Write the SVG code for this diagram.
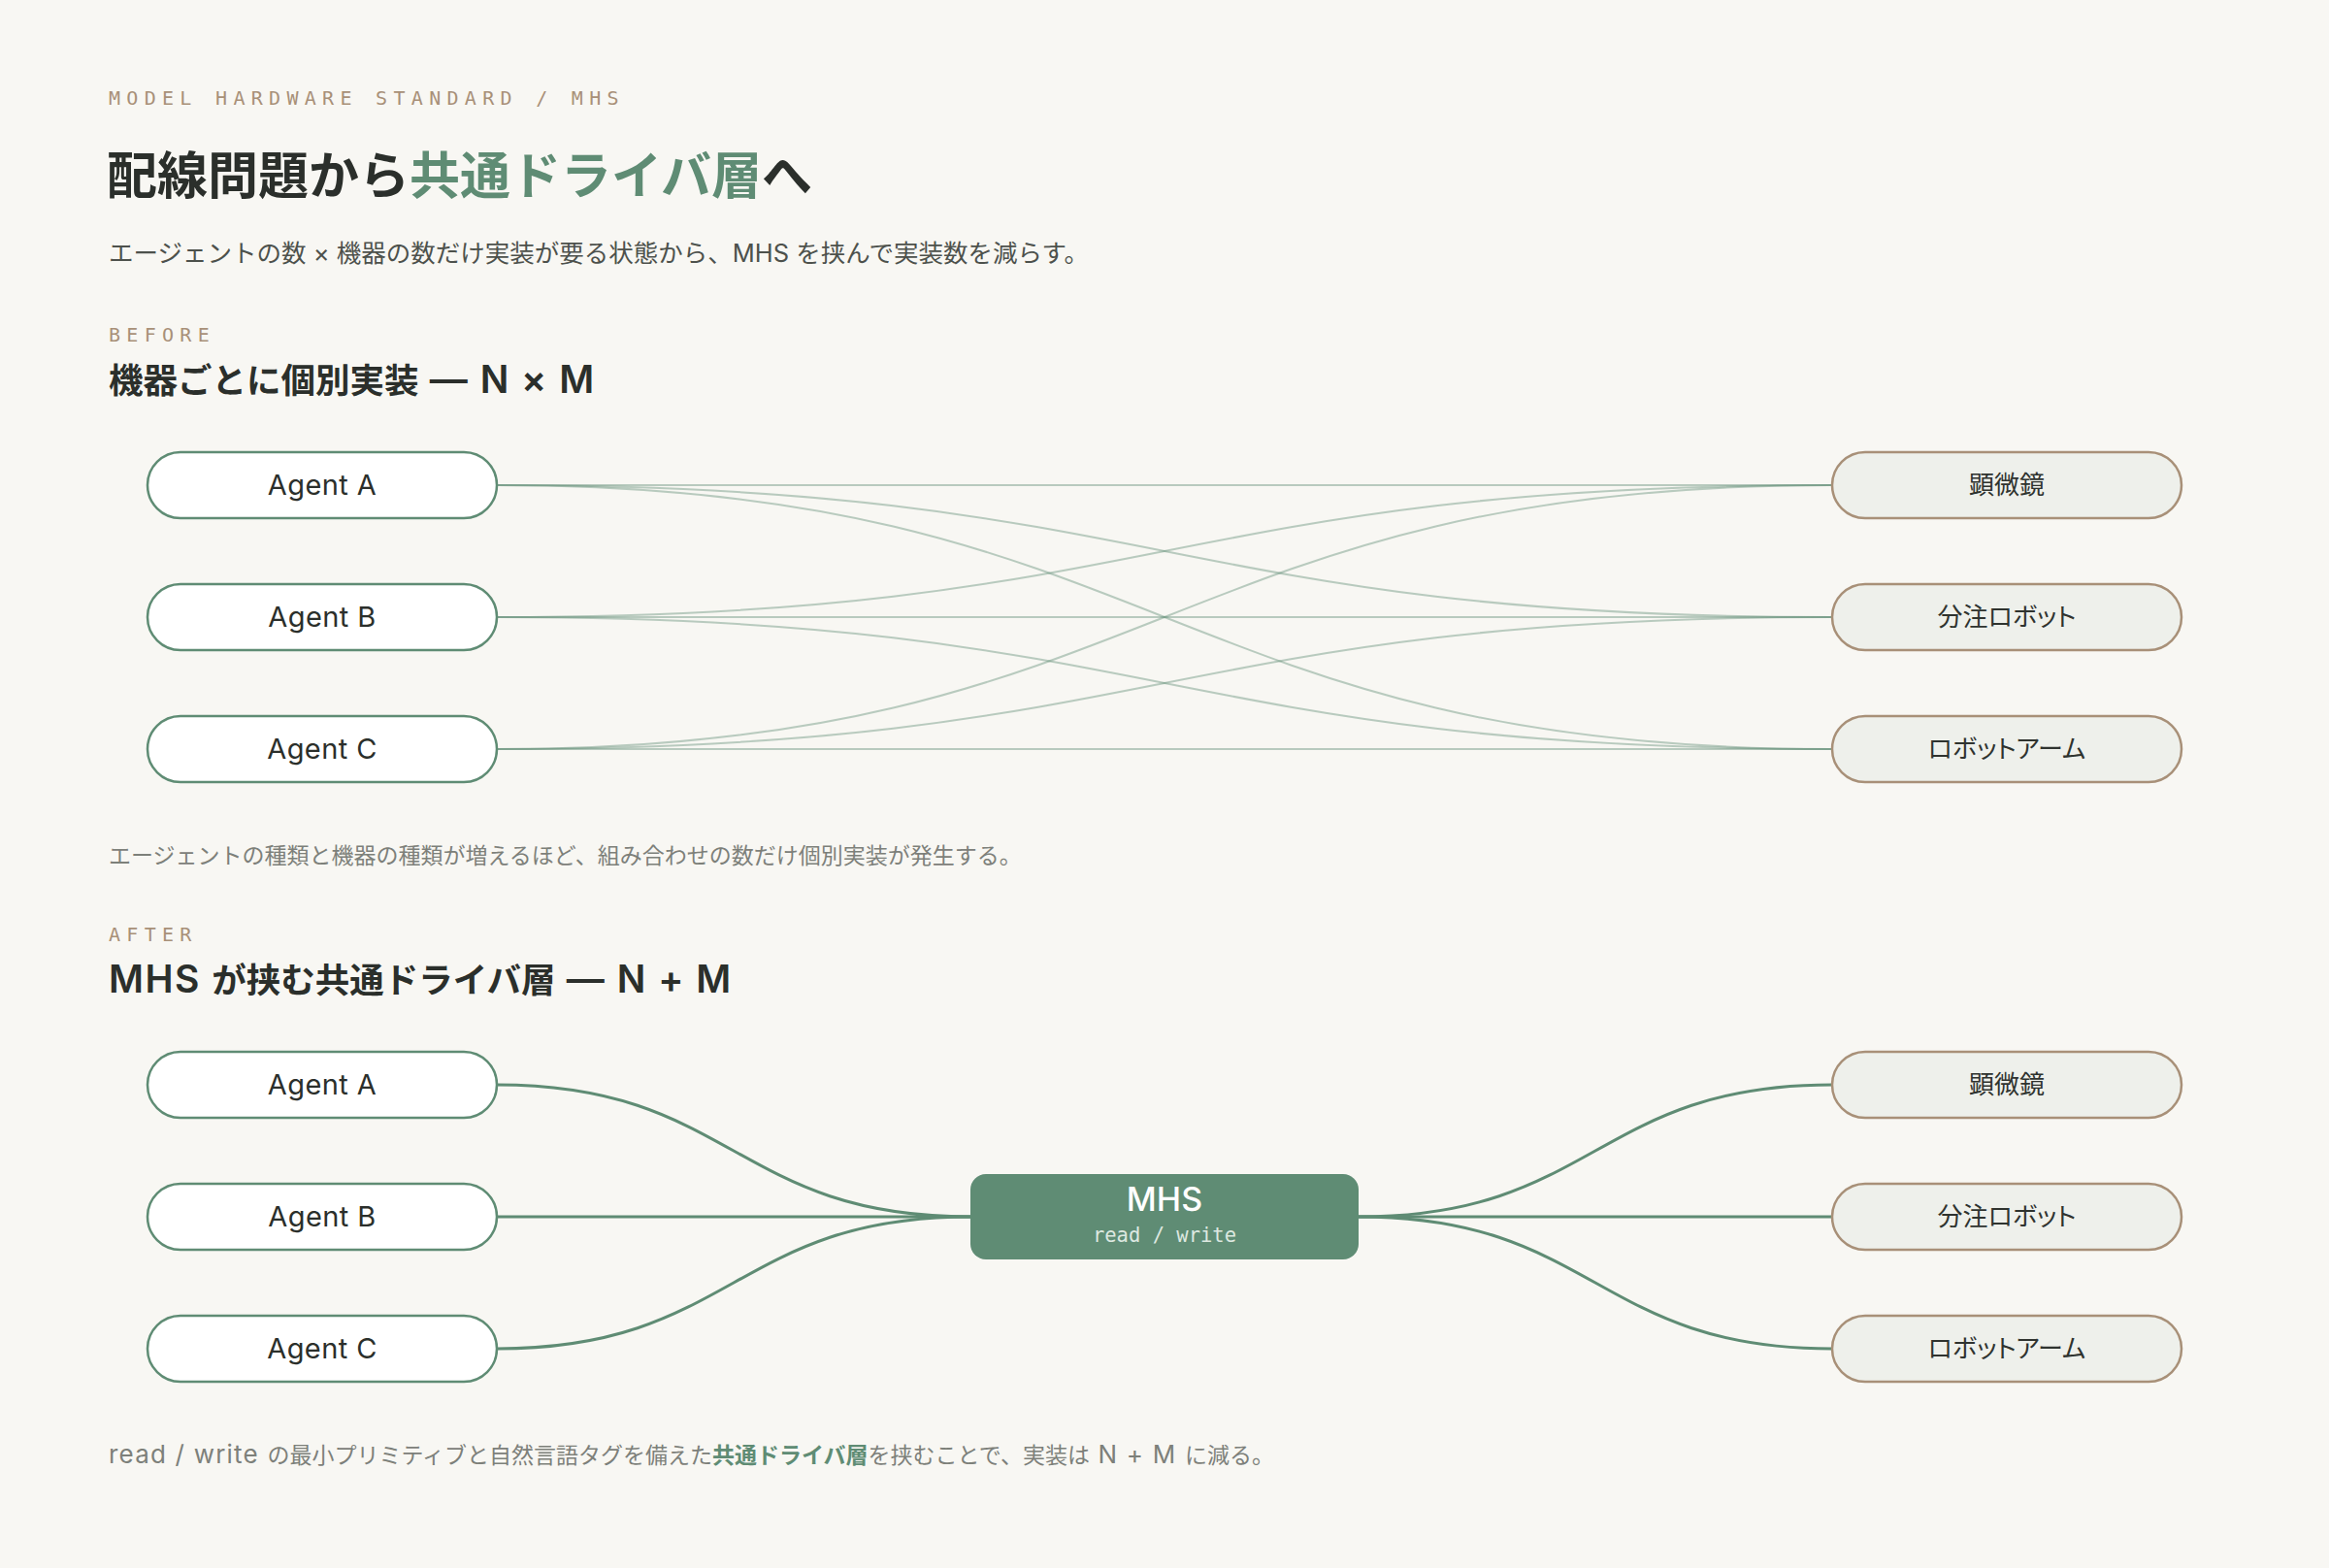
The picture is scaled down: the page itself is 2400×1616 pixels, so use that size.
<svg xmlns="http://www.w3.org/2000/svg" width="2400" height="1616" viewBox="0 0 2400 1616">
  <style>
    .bg { fill: #f8f7f3; }
    .sans { font-family: Inter, "Noto Sans CJK JP", sans-serif; }
    .mono { font-family: "DejaVu Sans Mono", "Liberation Mono", monospace; }
    .eyebrow { font-size: 20px; fill: #a89078; letter-spacing: 6.3px; }
    .title { font-size: 52px; font-weight: 700; fill: #2b2f2b; }
    .green { fill: #5f8c74; }
    .sub { font-size: 25.5px; fill: #4d514c; }
    .sect { font-size: 35.5px; font-weight: 600; fill: #2b2f2b; }
    .lat { font-size: 39px; letter-spacing: 1.5px; }
    .cap { font-size: 23px; fill: #7d807a; }
    .caplat { font-size: 26px; letter-spacing: 1.2px; }
    .agent rect { fill: #ffffff; stroke: #5f8c74; stroke-width: 2.5; }
    .agent text { font-size: 29px; fill: #2b2f2b; text-anchor: middle; letter-spacing: 0.4px; }
    .dev rect { fill: #eef0eb; stroke: #a89078; stroke-width: 2.5; }
    .dev text { font-size: 26px; fill: #2f332f; text-anchor: middle; font-feature-settings: "palt"; }
    .thin path { fill: none; stroke: #5f8c74; stroke-opacity: 0.42; stroke-width: 2; }
    .thick path { fill: none; stroke: #5f8c74; stroke-width: 3; }
  </style>
  <rect class="bg" x="0" y="0" width="2400" height="1616"/>

  <text class="mono eyebrow" x="112" y="108">MODEL HARDWARE STANDARD / MHS</text>
  <text class="sans title" x="110" y="200">配線問題から<tspan class="green">共通ドライバ層</tspan>へ</text>
  <text class="sans sub" x="112" y="270">エージェントの数 × 機器の数だけ実装が要る状態から、MHS を挟んで実装数を減らす。</text>

  <text class="mono eyebrow" x="112" y="352">BEFORE</text>
  <text class="sans sect" x="112" y="405">機器ごとに個別実装<tspan class="lat"> — N × M</tspan></text>

  <g id="before-connectors" class="thin">
    <path d="M512,500 C1200,500 1200,500 1888,500"/>
    <path d="M512,500 C1200,500 1200,636 1888,636"/>
    <path d="M512,500 C1200,500 1200,772 1888,772"/>
    <path d="M512,636 C1200,636 1200,500 1888,500"/>
    <path d="M512,636 C1200,636 1200,636 1888,636"/>
    <path d="M512,636 C1200,636 1200,772 1888,772"/>
    <path d="M512,772 C1200,772 1200,500 1888,500"/>
    <path d="M512,772 C1200,772 1200,636 1888,636"/>
    <path d="M512,772 C1200,772 1200,772 1888,772"/>
  </g>

  <g id="before-agent-a" class="agent"><rect x="152" y="466" width="360" height="68" rx="34"/><text class="sans" x="332" y="510">Agent A</text></g>
  <g id="before-agent-b" class="agent"><rect x="152" y="602" width="360" height="68" rx="34"/><text class="sans" x="332" y="646">Agent B</text></g>
  <g id="before-agent-c" class="agent"><rect x="152" y="738" width="360" height="68" rx="34"/><text class="sans" x="332" y="782">Agent C</text></g>
  <g id="before-dev-1" class="dev"><rect x="1888" y="466" width="360" height="68" rx="34"/><text class="sans" x="2068" y="509">顕微鏡</text></g>
  <g id="before-dev-2" class="dev"><rect x="1888" y="602" width="360" height="68" rx="34"/><text class="sans" x="2068" y="645">分注ロボット</text></g>
  <g id="before-dev-3" class="dev"><rect x="1888" y="738" width="360" height="68" rx="34"/><text class="sans" x="2068" y="781">ロボットアーム</text></g>

  <text class="sans cap" x="112" y="890">エージェントの種類と機器の種類が増えるほど、組み合わせの数だけ個別実装が発生する。</text>

  <text class="mono eyebrow" x="112" y="970">AFTER</text>
  <text class="sans sect" x="112" y="1023"><tspan class="lat">MHS </tspan>が挟む共通ドライバ層<tspan class="lat"> — N + M</tspan></text>

  <g id="after-connectors" class="thick">
    <path d="M512,1118 C756,1118 756,1254 1000,1254"/>
    <path d="M512,1254 L1000,1254"/>
    <path d="M512,1390 C756,1390 756,1254 1000,1254"/>
    <path d="M1400,1254 C1644,1254 1644,1118 1888,1118"/>
    <path d="M1400,1254 L1888,1254"/>
    <path d="M1400,1254 C1644,1254 1644,1390 1888,1390"/>
  </g>

  <g id="after-agent-a" class="agent"><rect x="152" y="1084" width="360" height="68" rx="34"/><text class="sans" x="332" y="1128">Agent A</text></g>
  <g id="after-agent-b" class="agent"><rect x="152" y="1220" width="360" height="68" rx="34"/><text class="sans" x="332" y="1264">Agent B</text></g>
  <g id="after-agent-c" class="agent"><rect x="152" y="1356" width="360" height="68" rx="34"/><text class="sans" x="332" y="1400">Agent C</text></g>

  <g id="mhs">
    <rect x="1000" y="1210" width="400" height="88" rx="16" fill="#5f8c74"/>
    <text class="sans" x="1200" y="1248" font-size="34" font-weight="500" fill="#ffffff" text-anchor="middle">MHS</text>
    <text class="mono" x="1200" y="1280" font-size="20.5" fill="#dde8e0" text-anchor="middle">read / write</text>
  </g>

  <g id="after-dev-1" class="dev"><rect x="1888" y="1084" width="360" height="68" rx="34"/><text class="sans" x="2068" y="1127">顕微鏡</text></g>
  <g id="after-dev-2" class="dev"><rect x="1888" y="1220" width="360" height="68" rx="34"/><text class="sans" x="2068" y="1263">分注ロボット</text></g>
  <g id="after-dev-3" class="dev"><rect x="1888" y="1356" width="360" height="68" rx="34"/><text class="sans" x="2068" y="1399">ロボットアーム</text></g>

  <text class="sans cap" x="112" y="1508"><tspan class="caplat">read / write </tspan>の最小プリミティブと自然言語タグを備えた<tspan class="green" font-weight="700">共通ドライバ層</tspan>を挟むことで、実装は<tspan class="caplat"> N + M </tspan>に減る。</text>
</svg>
